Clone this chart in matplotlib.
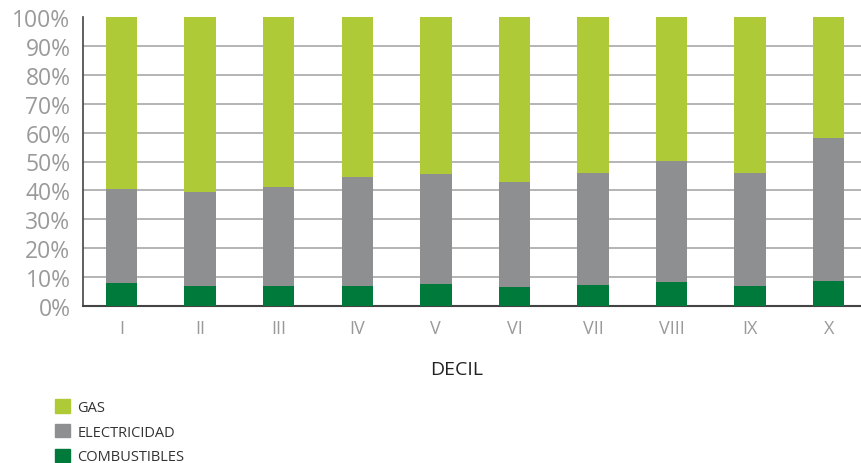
import matplotlib
matplotlib.use("Agg")
import matplotlib.pyplot as plt
from matplotlib.patches import Patch
import numpy as np

deciles = ["I", "II", "III", "IV", "V", "VI", "VII", "VIII", "IX", "X"]
combustibles = [8.1, 7.0, 7.0, 7.0, 7.6, 6.7, 7.4, 8.4, 7.0, 8.7]
electricidad = [32.3, 32.6, 34.3, 37.7, 38.2, 36.3, 38.7, 41.9, 39.1, 49.5]
gas = [59.6, 60.4, 58.7, 55.3, 54.2, 57.0, 53.9, 49.7, 53.9, 41.8]
yticks = [0, 10, 20, 30, 40, 50, 60, 70, 80, 90, 100]

c_gas = "#AECB37"
c_ele = "#8E8F90"
c_com = "#007A3A"

plt.rcParams["font.family"] = ["Open Sans", "DejaVu Sans"]

fig = plt.figure(figsize=(8.61, 4.64), dpi=100)
ax = fig.add_axes([83/861, 1-307/464, 1-83/861, (307-18)/464])

x = np.arange(len(deciles))
w = 0.40
com = np.array(combustibles)
ele = np.array(electricidad)
gs = np.array(gas)
ax.bar(x, com, w, color=c_com, zorder=3, edgecolor="none")
ax.bar(x, ele, w, bottom=com, color=c_ele, zorder=3, edgecolor="none")
ax.bar(x, gs, w, bottom=com+ele, color=c_gas, zorder=3, edgecolor="none")

ax.set_xlim(-0.49, 9.41)
ax.set_ylim(0, 100)
ax.set_yticks(yticks)
ax.set_yticklabels([f"{v}%" for v in yticks])
for v in yticks[1:-1]:
    ax.axhline(v, color="#A8A8A8", lw=1.2, zorder=1)

ax.set_xticks(x)
ax.set_xticklabels(deciles)
ax.tick_params(axis="y", length=0, pad=9, labelsize=16.5, labelcolor="#9A9A9A")
ax.tick_params(axis="x", length=0, pad=9, labelsize=13, labelcolor="#9A9A9A")
for s in ["top", "right"]:
    ax.spines[s].set_visible(False)
ax.spines["left"].set_color("#444444")
ax.spines["bottom"].set_color("#444444")
ax.spines["left"].set_linewidth(1.2)
ax.spines["bottom"].set_linewidth(1.5)

fig.text(457/861, 1-370/464, "DECIL", ha="center", va="center",
         fontsize=14, color="#222222")

handles = [Patch(color=c_gas), Patch(color=c_ele), Patch(color=c_com)]
labels = ["GAS", "ELECTRICIDAD", "COMBUSTIBLES"]
fig.legend(handles, labels, loc="upper left",
           bbox_to_anchor=(55/861, 1-400/464), frameon=False,
           fontsize=10.5, labelcolor="#333333", handlelength=1.05,
           handleheight=1.05, handletextpad=0.5, labelspacing=0.62,
           borderaxespad=0, borderpad=0)

fig.savefig("out.png", dpi=100)
